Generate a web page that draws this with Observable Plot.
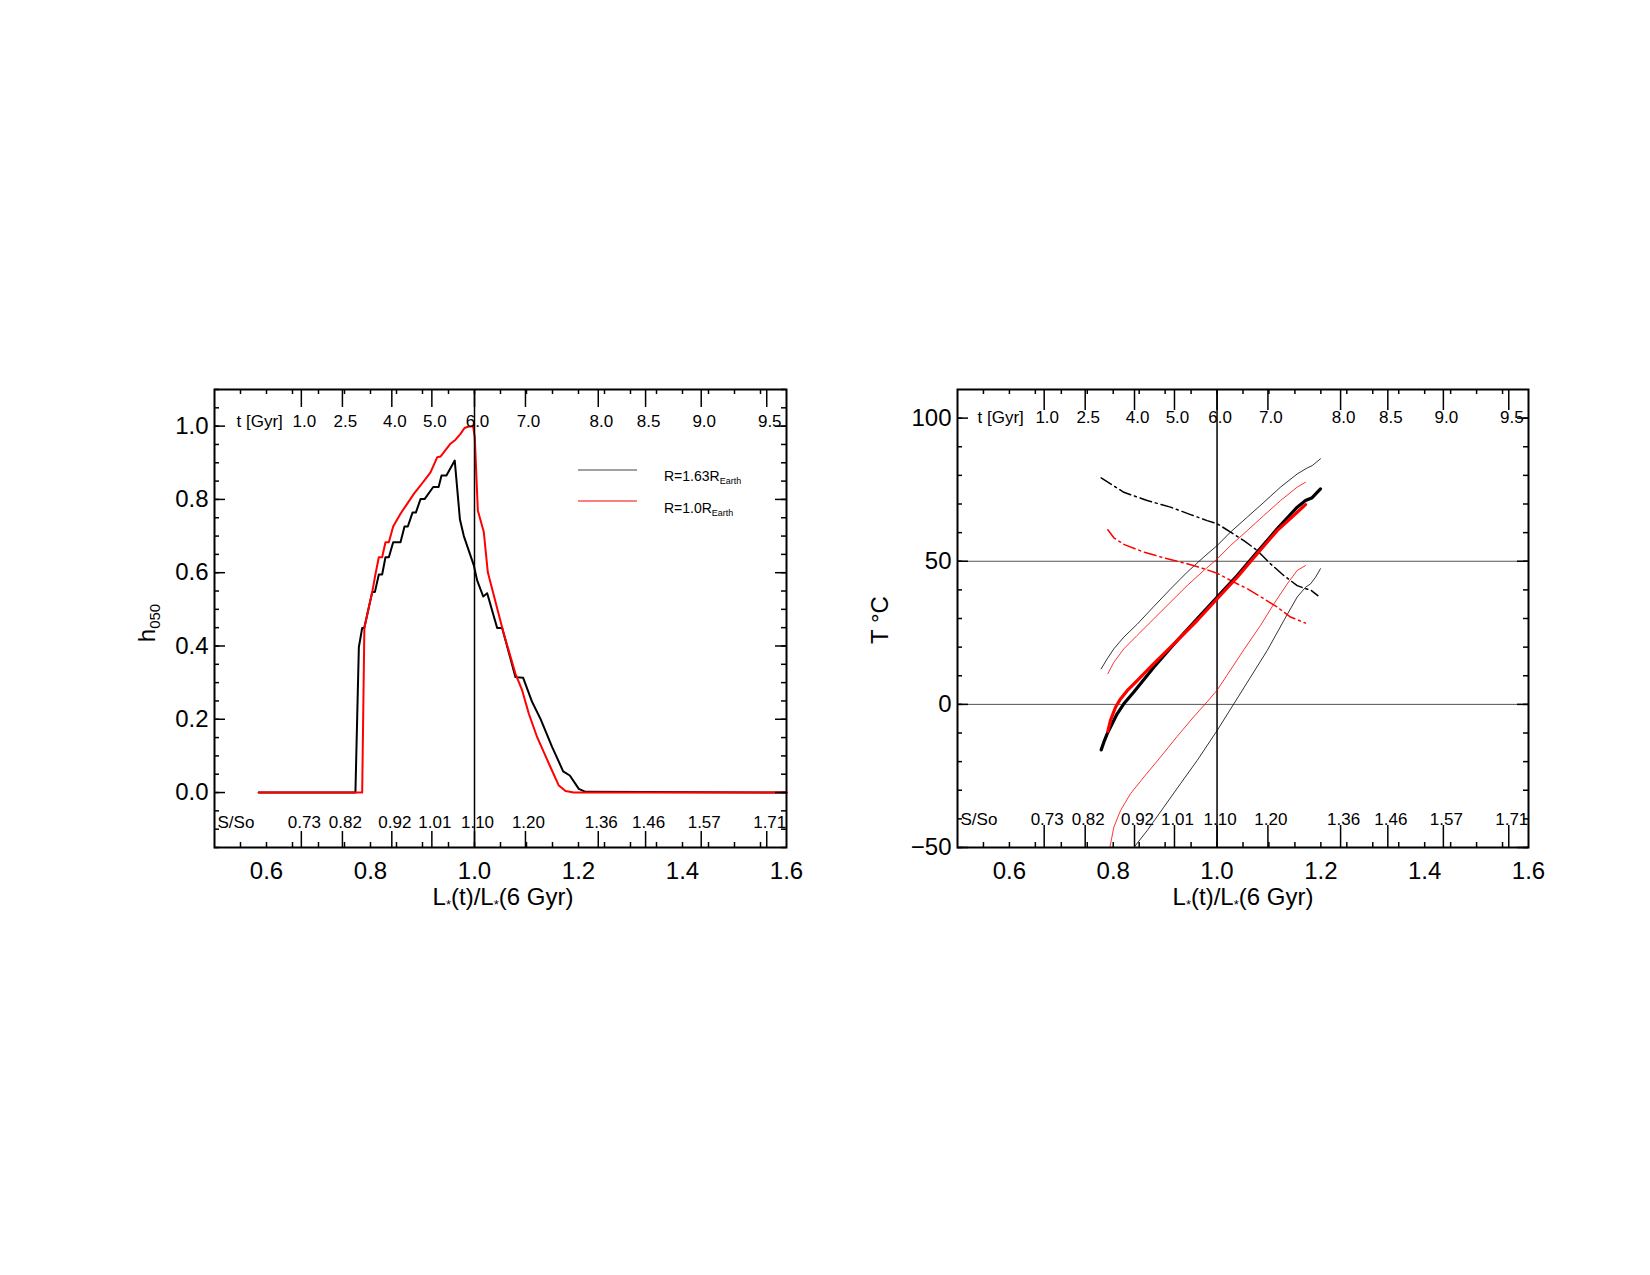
<!DOCTYPE html>
<html><head><meta charset="utf-8">
<script src="https://cdn.jsdelivr.net/npm/d3@7"></script>
<script src="https://cdn.jsdelivr.net/npm/@observablehq/plot@0.6"></script>
<style>
html,body{margin:0;padding:0;background:#fff;}
body{width:1650px;height:1275px;position:relative;overflow:hidden;font-family:"Liberation Sans",Arial,sans-serif;}
.panel{position:absolute;top:370px;}
</style></head><body>
<div id="left" class="panel" style="left:120px"></div>
<div id="right" class="panel" style="left:860px"></div>
<script>
// ---------- shared axis data ----------
const xMajorTicks = [0.6, 0.8, 1.0, 1.2, 1.4, 1.6];
const secTickPos = [0.667, 0.746, 0.841, 0.918, 1.0, 1.098, 1.238, 1.329, 1.436, 1.562];
const tGyrLabels = ["1.0", "2.5", "4.0", "5.0", "6.0", "7.0", "8.0", "8.5", "9.0", "9.5"];
const sSoLabels = ["0.73", "0.82", "0.92", "1.01", "1.10", "1.20", "1.36", "1.46", "1.57", "1.71"];
const refLum = [1.0];

// ---------- left panel: h050 ----------
const hYTicks = [0.0, 0.2, 0.4, 0.6, 0.8, 1.0];
const hBlackX = [0.585, 0.771, 0.7776, 0.784, 0.788, 0.8033, 0.8084, 0.8160, 0.8224, 0.8288, 0.8353, 0.8436, 0.8577, 0.8654, 0.8718, 0.8808, 0.8872, 0.8962, 0.9040, 0.9206, 0.9310, 0.9366, 0.9460, 0.9620, 0.9720, 0.9795, 0.9987, 1.0051, 1.0167, 1.0244, 1.0436, 1.0532, 1.0788, 1.0936, 1.1109, 1.1269, 1.1494, 1.1705, 1.1833, 1.2006, 1.2135, 1.6];
const hBlackY = [0, 0, 0.397, 0.449, 0.449, 0.547, 0.547, 0.595, 0.595, 0.642, 0.642, 0.683, 0.683, 0.726, 0.726, 0.764, 0.764, 0.801, 0.801, 0.834, 0.834, 0.865, 0.865, 0.906, 0.745, 0.700, 0.620, 0.579, 0.535, 0.544, 0.449, 0.449, 0.315, 0.313, 0.247, 0.201, 0.124, 0.058, 0.0465, 0.010, 0.002, 0];
const hRedX = [0.585, 0.784, 0.7882, 0.7968, 0.8033, 0.8097, 0.8160, 0.8224, 0.8288, 0.8353, 0.8436, 0.8577, 0.8705, 0.8833, 0.8962, 0.9154, 0.9282, 0.9346, 0.9538, 0.9635, 0.9731, 0.9808, 0.9891, 0.9974, 1.0005, 1.0064, 1.0179, 1.0256, 1.0564, 1.0788, 1.0917, 1.1045, 1.1205, 1.1462, 1.1622, 1.1750, 1.1910, 1.6];
const hRedY = [0, 0, 0.449, 0.506, 0.547, 0.597, 0.642, 0.642, 0.683, 0.683, 0.726, 0.761, 0.788, 0.815, 0.838, 0.874, 0.915, 0.917, 0.952, 0.963, 0.979, 0.995, 0.999, 0.999, 0.97, 0.770, 0.711, 0.601, 0.433, 0.324, 0.2785, 0.215, 0.151, 0.069, 0.019, 0.004, 0, 0];

// ---------- right panel: T °C ----------
const tYTicks = [-50, 0, 50, 100];
const tRefTemps = [0, 50];
const thickBlackX = [0.7768, 0.7819, 0.7883, 0.7980, 0.8076, 0.8204, 0.8397, 0.8782, 0.9232, 0.9617, 1.0003, 1.0388, 1.0773, 1.1158, 1.1544, 1.1704, 1.1833, 1.1993];
const thickBlackY = [-15.9, -13.2, -10.3, -6.8, -3.3, 0.2, 4.3, 13.0, 22.3, 29.9, 37.5, 45.0, 53.2, 61.3, 68.9, 71.2, 72.2, 75.3];
const thickRedX = [0.7896, 0.7947, 0.8044, 0.8140, 0.8268, 0.8461, 0.8782, 0.9232, 0.9617, 1.0003, 1.0388, 1.0773, 1.1158, 1.1544, 1.1704];
const thickRedY = [-9.4, -5.6, -1.0, 1.9, 4.8, 8.3, 14.2, 22.3, 29.3, 36.9, 44.4, 52.6, 60.7, 67.1, 69.8];
const thinBlackUpX = [0.7768, 0.7883, 0.8012, 0.8204, 0.8461, 0.8782, 0.9103, 0.9425, 0.9746, 1.0003, 1.0260, 1.0581, 1.0902, 1.1223, 1.1544, 1.1737, 1.1833, 1.1993];
const thinBlackUpY = [12.4, 15.9, 19.4, 23.5, 28.0, 34.2, 40.3, 46.2, 51.5, 55.5, 60.2, 65.4, 70.6, 75.9, 80.5, 82.6, 83.4, 85.8];
const thinRedUpX = [0.7896, 0.8012, 0.8204, 0.8461, 0.8782, 0.9103, 0.9425, 0.9746, 1.0003, 1.0260, 1.0581, 1.0902, 1.1223, 1.1544, 1.1704];
const thinRedUpY = [10.7, 14.7, 19.4, 24.1, 29.9, 35.7, 41.5, 46.8, 50.8, 55.5, 60.7, 66.0, 71.2, 75.9, 77.6];
const thinRedLowX = [0.7935, 0.8012, 0.8140, 0.8333, 0.8590, 0.8911, 0.9232, 0.9553, 0.9810, 1.0003, 1.0196, 1.0517, 1.0838, 1.1095, 1.1352, 1.1544, 1.1704];
const thinRedLowY = [-50, -42.9, -37.1, -31.2, -25.4, -18.4, -11.2, -4.3, 0.9, 5.0, 10.3, 19.1, 27.6, 35.1, 42.1, 46.8, 48.5];
const thinBlackLowX = [0.8397, 0.8654, 0.8975, 0.9296, 0.9617, 1.0003, 1.0324, 1.0645, 1.0966, 1.1287, 1.1544, 1.1704, 1.1801, 1.1897, 1.1993];
const thinBlackLowY = [-50, -44.1, -35.9, -27.7, -19.6, -9.1, 0.2, 9.5, 18.8, 29.3, 37.5, 40.9, 42.1, 44.4, 47.4];
const dashBlackX = [0.7768, 0.8204, 0.8654, 0.9103, 0.9489, 0.9810, 1.0003, 1.0260, 1.0517, 1.0773, 1.1030, 1.1287, 1.1544, 1.1704, 1.1801, 1.1942];
const dashBlackY = [79.1, 74.1, 71.2, 68.9, 66.3, 64.2, 63.1, 60.2, 57.2, 53.8, 49.1, 45.0, 41.5, 40.4, 40.0, 38.0];
const dashRedX = [0.7896, 0.8012, 0.8204, 0.8590, 0.8975, 0.9425, 0.9746, 1.0003, 1.0260, 1.0581, 1.0902, 1.1158, 1.1415, 1.1704];
const dashRedY = [61.0, 58.2, 55.9, 53.2, 51.2, 49.1, 47.4, 45.8, 43.3, 40.4, 36.9, 34.0, 30.5, 28.4];

// ---------- helpers ----------
const pts = (X, Y) => X.map((x, i) => ({x, y: Y[i]}));
const FONT = '"Liberation Sans", Arial, sans-serif';
const FH = 458;
const MT = 19, MB = 73;
const xMinor = d3.range(11, 32).map(i => i * 0.05);

function frameTicks(FW, yMajor, yMinor, longTop, longBottom) {
  const sw = 1.5;
  return [
    Plot.tickX(xMinor, {x: d => d, insetTop: FH - 5, strokeWidth: sw}),
    Plot.tickX(xMinor, {x: d => d, insetBottom: FH - 5, strokeWidth: sw}),
    Plot.tickX(secTickPos, {x: d => d, insetTop: FH - longBottom, strokeWidth: sw}),
    Plot.tickX(secTickPos, {x: d => d, insetBottom: FH - longTop, strokeWidth: sw}),
    Plot.tickY(yMinor, {y: d => d, insetRight: FW - 5, strokeWidth: sw}),
    Plot.tickY(yMinor, {y: d => d, insetLeft: FW - 5, strokeWidth: sw}),
    Plot.tickY(yMajor, {y: d => d, insetRight: FW - 11, strokeWidth: sw}),
    Plot.tickY(yMajor, {y: d => d, insetLeft: FW - 11, strokeWidth: sw})
  ];
}

function secondaryLabels(topDy, bottomDy, tDx) {
  return [
    Plot.text(secTickPos, {x: d => d, text: (d, i) => tGyrLabels[i], frameAnchor: "top", dy: topDy, dx: 3, fontSize: 17}),
    Plot.text(secTickPos, {x: d => d, text: (d, i) => sSoLabels[i], frameAnchor: "bottom", dy: bottomDy, dx: 3, fontSize: 17}),
    Plot.text(["t [Gyr]"], {text: d => d, frameAnchor: "top-left", dx: tDx, dy: topDy, textAnchor: "start", fontSize: 17}),
    Plot.text(["S/So"], {text: d => d, frameAnchor: "bottom-left", dx: 3, dy: bottomDy, textAnchor: "start", fontSize: 17})
  ];
}

function xTitle(svg, cx) {
  const t = d3.select(svg).append("text")
    .attr("x", cx).attr("y", 535).attr("text-anchor", "middle")
    .attr("font-family", FONT).attr("font-size", 24).attr("fill", "black");
  t.append("tspan").text("L");
  t.append("tspan").attr("font-size", 13).attr("dy", 4).text("*");
  t.append("tspan").attr("dy", -4).text("(t)/L");
  t.append("tspan").attr("font-size", 13).attr("dy", 4).text("*");
  t.append("tspan").attr("dy", -4).text("(6 Gyr)");
}

// ---------- left plot ----------
const FWL = 572;
const left = Plot.plot({
  width: 94 + FWL + 20, height: MT + FH + MB,
  marginLeft: 94, marginRight: 20, marginTop: MT, marginBottom: MB,
  style: {fontFamily: FONT, fontSize: "24px", background: "white", color: "black"},
  x: {domain: [0.5, 1.6]},
  y: {domain: [-0.15, 1.1]},
  marks: [
    Plot.line(pts(hBlackX, hBlackY), {x: "x", y: "y", stroke: "black", strokeWidth: 2}),
    Plot.line(pts(hRedX, hRedY), {x: "x", y: "y", stroke: "#ff0000", strokeWidth: 2}),
    Plot.ruleX(refLum, {stroke: "black", strokeWidth: 1.5}),
    ...frameTicks(FWL, hYTicks, d3.range(-3, 23).map(i => i * 0.05), 18, 16),
    ...secondaryLabels(25, -20, 22),
    Plot.axisX({ticks: xMajorTicks, tickSize: 0, tickPadding: 14, tickFormat: d3.format(".1f"), fontSize: 24, label: null}),
    Plot.axisY({ticks: hYTicks, tickSize: 0, tickPadding: 6, tickFormat: d3.format(".1f"), fontSize: 24, label: null}),
    Plot.frame({stroke: "black", strokeWidth: 2})
  ]
});
document.getElementById("left").appendChild(left);
xTitle(left, 383);
{
  const s = d3.select(left);
  const yt = s.append("text").attr("transform", "translate(35,253) rotate(-90)")
    .attr("text-anchor", "middle").attr("font-family", FONT).attr("font-size", 24).attr("fill", "black");
  yt.append("tspan").text("h");
  yt.append("tspan").attr("font-size", 15).attr("dy", 5).text("050");
  // legend
  const legend = [
    {label: "R=1.63R", sub: "Earth", color: "#444", y: 100, ty: 111},
    {label: "R=1.0R", sub: "Earth", color: "#ff0000", y: 131, ty: 143}
  ];
  legend.forEach(d => {
    s.append("line").attr("x1", 458).attr("x2", 517).attr("y1", d.y).attr("y2", d.y)
      .attr("stroke", d.color).attr("stroke-width", 1.2);
    const t = s.append("text").attr("x", 544).attr("y", d.ty).attr("text-anchor", "start")
      .attr("font-family", FONT).attr("font-size", 14).attr("fill", "black");
    t.append("tspan").text(d.label);
    t.append("tspan").attr("font-size", 9).attr("dy", 3).text(d.sub);
  });
}

// ---------- right plot ----------
const FWR = 571;
const right = Plot.plot({
  width: 97 + FWR + 30, height: MT + FH + MB,
  marginLeft: 97, marginRight: 30, marginTop: MT, marginBottom: MB,
  style: {fontFamily: FONT, fontSize: "24px", background: "white", color: "black"},
  x: {domain: [0.5, 1.6]},
  y: {domain: [-50, 110]},
  marks: [
    Plot.ruleY(tRefTemps, {stroke: "#555", strokeWidth: 1}),
    Plot.ruleX(refLum, {stroke: "black", strokeWidth: 1.5}),
    Plot.line(pts(thinBlackUpX, thinBlackUpY), {x: "x", y: "y", stroke: "black", strokeWidth: 0.8, clip: true}),
    Plot.line(pts(thinBlackLowX, thinBlackLowY), {x: "x", y: "y", stroke: "black", strokeWidth: 0.8, clip: true}),
    Plot.line(pts(thinRedUpX, thinRedUpY), {x: "x", y: "y", stroke: "#ff0000", strokeWidth: 0.8, clip: true}),
    Plot.line(pts(thinRedLowX, thinRedLowY), {x: "x", y: "y", stroke: "#ff0000", strokeWidth: 0.8, clip: true}),
    Plot.line(pts(dashBlackX, dashBlackY), {x: "x", y: "y", stroke: "black", strokeWidth: 1.5, strokeDasharray: "12,4,2,4"}),
    Plot.line(pts(dashRedX, dashRedY), {x: "x", y: "y", stroke: "#ff0000", strokeWidth: 1.5, strokeDasharray: "12,4,2,4"}),
    Plot.line(pts(thickBlackX, thickBlackY), {x: "x", y: "y", stroke: "black", strokeWidth: 3.2}),
    Plot.line(pts(thickRedX, thickRedY), {x: "x", y: "y", stroke: "#ff0000", strokeWidth: 3.2}),
    ...frameTicks(FWR, tYTicks, d3.range(-5, 11).map(i => i * 10), 21, 22),
    ...secondaryLabels(21, -23, 20),
    Plot.axisX({ticks: xMajorTicks, tickSize: 0, tickPadding: 14, tickFormat: d3.format(".1f"), fontSize: 24, label: null}),
    Plot.axisY({ticks: tYTicks, tickSize: 0, tickPadding: 6, fontSize: 24, label: null}),
    Plot.frame({stroke: "black", strokeWidth: 2})
  ]
});
document.getElementById("right").appendChild(right);
xTitle(right, 383);
d3.select(right).append("text").attr("transform", "translate(28,250) rotate(-90)")
  .attr("text-anchor", "middle").attr("font-family", FONT).attr("font-size", 24).attr("fill", "black")
  .text("T °C");
</script>
</body></html>
